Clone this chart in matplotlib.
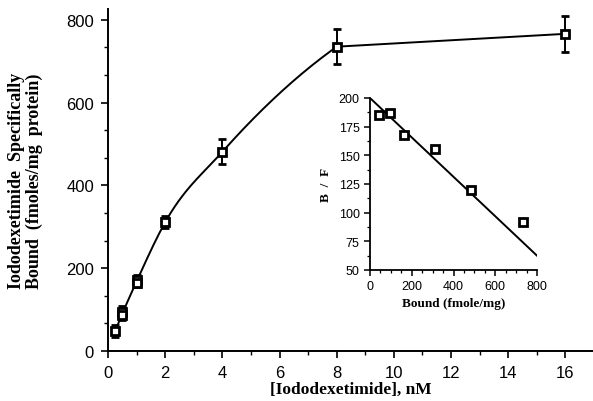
import numpy as np
import matplotlib
matplotlib.use("Agg")
import matplotlib.pyplot as plt
from matplotlib.ticker import MultipleLocator

# main saturation data
conc = [0.25, 0.5, 0.5, 1.0, 1.0, 2.0, 4.0, 8.0, 16.0]
bound = [48, 94, 86, 171, 164, 311, 481, 735, 766]
bound_err = [15, 15, 12, 12, 10, 15, 30, 42, 44]

# mean value per concentration (the drawn curve goes through these)
curve_x = [0.25, 0.5, 1.0, 2.0, 4.0, 8.0, 16.0]
curve_y = [48, 90, 168, 311, 481, 735, 766]

# Scatchard inset data
sc_bound = [45, 96, 163, 309, 483, 733]
sc_bf = [185, 186.5, 168, 155.5, 120, 91.5]
fit_b = [0, 800]
fit_bf = [200, 62.5]


def smooth(x, y, n=60):
    # cubic hermite with parabolic slopes over the rising part,
    # straight segment after the plateau point
    x = np.asarray(x, float)
    y = np.asarray(y, float)
    rx, ry = x[:-1], y[:-1]
    h = np.diff(rx)
    d = np.diff(ry) / h
    m = np.zeros_like(ry)
    for k in range(1, len(rx) - 1):
        m[k] = (h[k] * d[k - 1] + h[k - 1] * d[k]) / (h[k - 1] + h[k])
    m[0] = d[0] - (d[1] - d[0]) * h[0] / (h[0] + h[1])
    m[-1] = d[-1] + (d[-1] - d[-2]) * h[-1] / (h[-1] + h[-2])
    xs, ys = [], []
    for k in range(len(rx) - 1):
        t = np.linspace(0, 1, n)
        h00 = 2 * t**3 - 3 * t**2 + 1
        h10 = t**3 - 2 * t**2 + t
        h01 = -2 * t**3 + 3 * t**2
        h11 = t**3 - t**2
        xs.append(rx[k] + t * h[k])
        ys.append(h00 * ry[k] + h10 * h[k] * m[k] + h01 * ry[k + 1] + h11 * h[k] * m[k + 1])
    xs.append(x[-2:])
    ys.append(y[-2:])
    return np.concatenate(xs), np.concatenate(ys)


serif = {"family": "Liberation Serif", "weight": "bold"}
plt.rcParams["font.family"] = "Liberation Sans"

fig = plt.figure(figsize=(5.93, 4.02), dpi=100)
ax = fig.add_axes([108 / 593, 50 / 402, 486 / 593, 342 / 402])

sx, sy = smooth(curve_x, curve_y)
ax.plot(sx, sy, color="black", lw=1.4)

ax.errorbar(conc, bound, yerr=bound_err, fmt="s", ms=5.5, mfc="white",
            mec="black", mew=2.0, ecolor="black", elinewidth=1.4,
            capsize=3, capthick=1.4)

ax.set_xlim(0, 17)
ax.set_ylim(0, 826)
ax.xaxis.set_major_locator(MultipleLocator(2))
ax.xaxis.set_minor_locator(MultipleLocator(1))
ax.yaxis.set_major_locator(MultipleLocator(200))
ax.yaxis.set_minor_locator(MultipleLocator(200 / 3))
for s in ["top", "right"]:
    ax.spines[s].set_visible(False)
for s in ["left", "bottom"]:
    ax.spines[s].set_linewidth(1.4)
ax.tick_params(which="major", direction="out", length=5, width=1.2, labelsize=12, pad=5)
ax.tick_params(which="minor", direction="out", length=3, width=1.0)
ax.set_xlabel("[Iododexetimide], nM", fontdict=serif, fontsize=12.5, labelpad=1)
ax.set_ylabel("Iododexetimide  Specifically\nBound  (fmoles/mg  protein)",
              fontdict=serif, fontsize=13, labelpad=17, linespacing=1.0)

# inset
ins = fig.add_axes([370 / 593, 131 / 402, 167 / 593, 172 / 402])
ins.plot(fit_b, fit_bf, color="black", lw=1.4)
ins.plot(sc_bound, sc_bf, "s", ms=5.5, mfc="white", mec="black", mew=2.0)
ins.set_xlim(0, 800)
ins.set_ylim(50, 200)
ins.xaxis.set_major_locator(MultipleLocator(200))
ins.xaxis.set_minor_locator(MultipleLocator(50))
ins.yaxis.set_major_locator(MultipleLocator(25))
ins.yaxis.set_minor_locator(MultipleLocator(12.5))
for s in ["top", "right"]:
    ins.spines[s].set_visible(False)
for s in ["left", "bottom"]:
    ins.spines[s].set_linewidth(1.3)
ins.tick_params(which="major", direction="out", length=4, width=1.1, labelsize=9)
ins.tick_params(which="minor", direction="out", length=2.5, width=0.9)
ins.set_xlabel("Bound (fmole/mg)", fontdict=serif, fontsize=9.5, labelpad=3)
ins.set_ylabel("B  /  F", fontdict=serif, fontsize=9.5, labelpad=5)
ins.patch.set_alpha(0)

fig.savefig("out.png", dpi=100)
